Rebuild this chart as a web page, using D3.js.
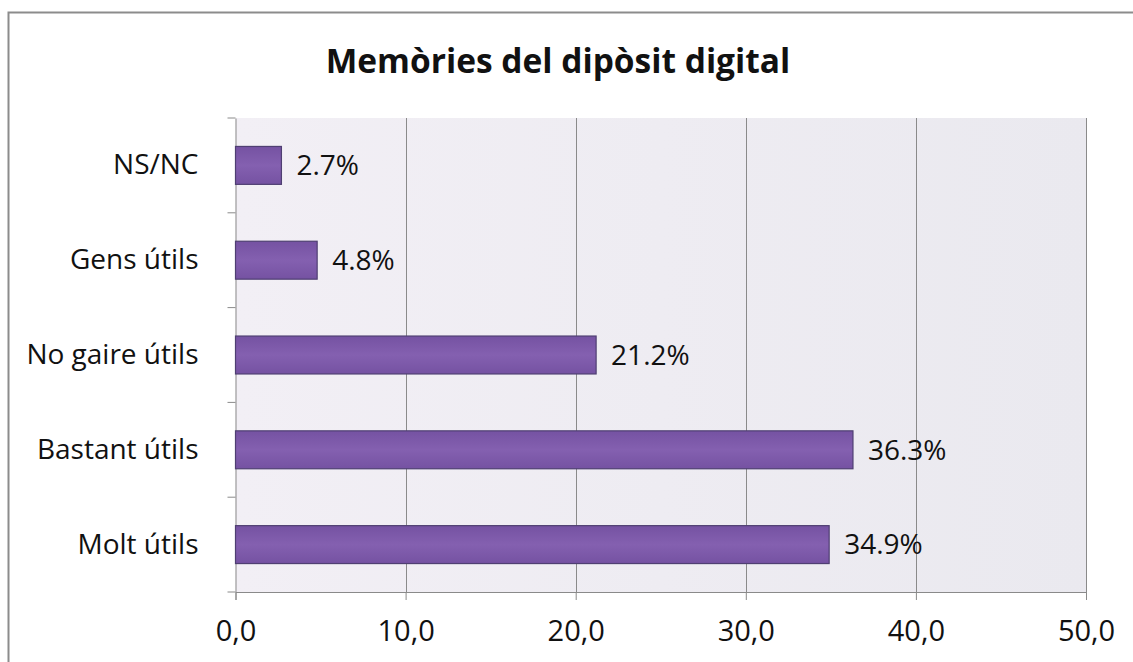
<!DOCTYPE html>
<html>
<head>
<meta charset="utf-8">
<script src="https://cdn.jsdelivr.net/npm/d3@7"></script>
<style>
  html, body { margin: 0; padding: 0; background: #ffffff; }
  svg { display: block; }
  text { font-family: "Open Sans", "DejaVu Sans", sans-serif; fill: #111; }
</style>
</head>
<body>
<svg id="chart" width="1133" height="662"></svg>
<script>
// ---- data ----
const title = "Memòries del dipòsit digital";
const categories = ["NS/NC", "Gens útils", "No gaire útils", "Bastant útils", "Molt útils"];
const values = [2.7, 4.8, 21.2, 36.3, 34.9];
const valueLabels = ["2.7%", "4.8%", "21.2%", "36.3%", "34.9%"];
const xTicks = [0, 10, 20, 30, 40, 50];
const xTickLabels = ["0,0", "10,0", "20,0", "30,0", "40,0", "50,0"];

const svg = d3.select("#chart");
const W = 1133, H = 662;
const plot = { left: 235.5, right: 1086, top: 118, bottom: 592 };

// outer chart border
svg.append("rect")
  .attr("x", 8.5).attr("y", 12.5)
  .attr("width", W + 10).attr("height", H + 10)
  .attr("fill", "#ffffff")
  .attr("stroke", "#8c8c8c").attr("stroke-width", 2);

const defs = svg.append("defs");
const bg = defs.append("linearGradient").attr("id", "bg").attr("x1", "0").attr("x2", "1").attr("y1", "0").attr("y2", "0");
bg.append("stop").attr("offset", "0").attr("stop-color", "#f2eff5");
bg.append("stop").attr("offset", "1").attr("stop-color", "#eae9ef");

const barG = defs.append("linearGradient").attr("id", "barg").attr("x1", "0").attr("x2", "0").attr("y1", "0").attr("y2", "1");
barG.append("stop").attr("offset", "0").attr("stop-color", "#7552a2");
barG.append("stop").attr("offset", "0.5").attr("stop-color", "#8460b0");
barG.append("stop").attr("offset", "1").attr("stop-color", "#7552a2");

const x = d3.scaleLinear().domain([0, 50]).range([plot.left, plot.right]);
const y = d3.scaleBand().domain(categories).range([plot.top, plot.bottom]).paddingInner(0.6).paddingOuter(0.3);

// plot background
svg.append("rect")
  .attr("x", plot.left).attr("y", plot.top)
  .attr("width", plot.right - plot.left).attr("height", plot.bottom - plot.top)
  .attr("fill", "url(#bg)");

// gridlines
svg.append("g").selectAll("line").data(xTicks.slice(1)).join("line")
  .attr("x1", d => Math.round(x(d)) + 0.5).attr("x2", d => Math.round(x(d)) + 0.5)
  .attr("y1", plot.top).attr("y2", plot.bottom)
  .attr("stroke", "#8a8a8a").attr("stroke-width", 1);

// x axis
const xAxis = d3.axisBottom(x).tickValues(xTicks)
  .tickFormat((d, i) => xTickLabels[i]).tickSize(8).tickPadding(20);
const gx = svg.append("g").attr("transform", `translate(0,${plot.bottom})`).call(xAxis);
gx.select(".domain").attr("stroke", "#8a8a8a");
gx.selectAll(".tick line").attr("stroke", "#8a8a8a");
gx.selectAll("text").attr("font-size", 29).attr("fill", "#111")
  .style("font-family", '"Open Sans", sans-serif');

// y axis (category)
const yAxis = d3.axisLeft(y).tickSize(0).tickPadding(37);
const gy = svg.append("g").attr("transform", `translate(${plot.left},0)`).call(yAxis);
gy.select(".domain").attr("stroke", "#8a8a8a");
gy.selectAll("text").attr("font-size", 28).attr("fill", "#111")
  .style("font-family", '"Open Sans", sans-serif');
// boundary ticks between categories
const bounds = d3.range(categories.length + 1).map(i => plot.top + i * (plot.bottom - plot.top) / categories.length);
svg.append("g").selectAll("line").data(bounds).join("line")
  .attr("x1", plot.left - 8).attr("x2", plot.left)
  .attr("y1", d => d).attr("y2", d => d)
  .attr("stroke", "#8a8a8a");

// bars
svg.append("g").selectAll("rect").data(values).join("rect")
  .attr("x", x(0))
  .attr("y", (d, i) => y(categories[i]))
  .attr("width", d => x(d) - x(0))
  .attr("height", y.bandwidth())
  .attr("fill", "url(#barg)")
  .attr("stroke", "#4f3f72").attr("stroke-width", 1.2);

// value labels
svg.append("g").selectAll("text").data(values).join("text")
  .attr("x", d => x(d) + 15)
  .attr("y", (d, i) => y(categories[i]) + y.bandwidth() / 2)
  .attr("dy", "0.35em")
  .attr("font-size", 28)
  .text((d, i) => valueLabels[i]);

// title
svg.append("text")
  .attr("x", 558).attr("y", 73)
  .attr("text-anchor", "middle")
  .attr("font-size", 33.5).attr("font-weight", "bold")
  .text(title);
</script>
</body>
</html>
